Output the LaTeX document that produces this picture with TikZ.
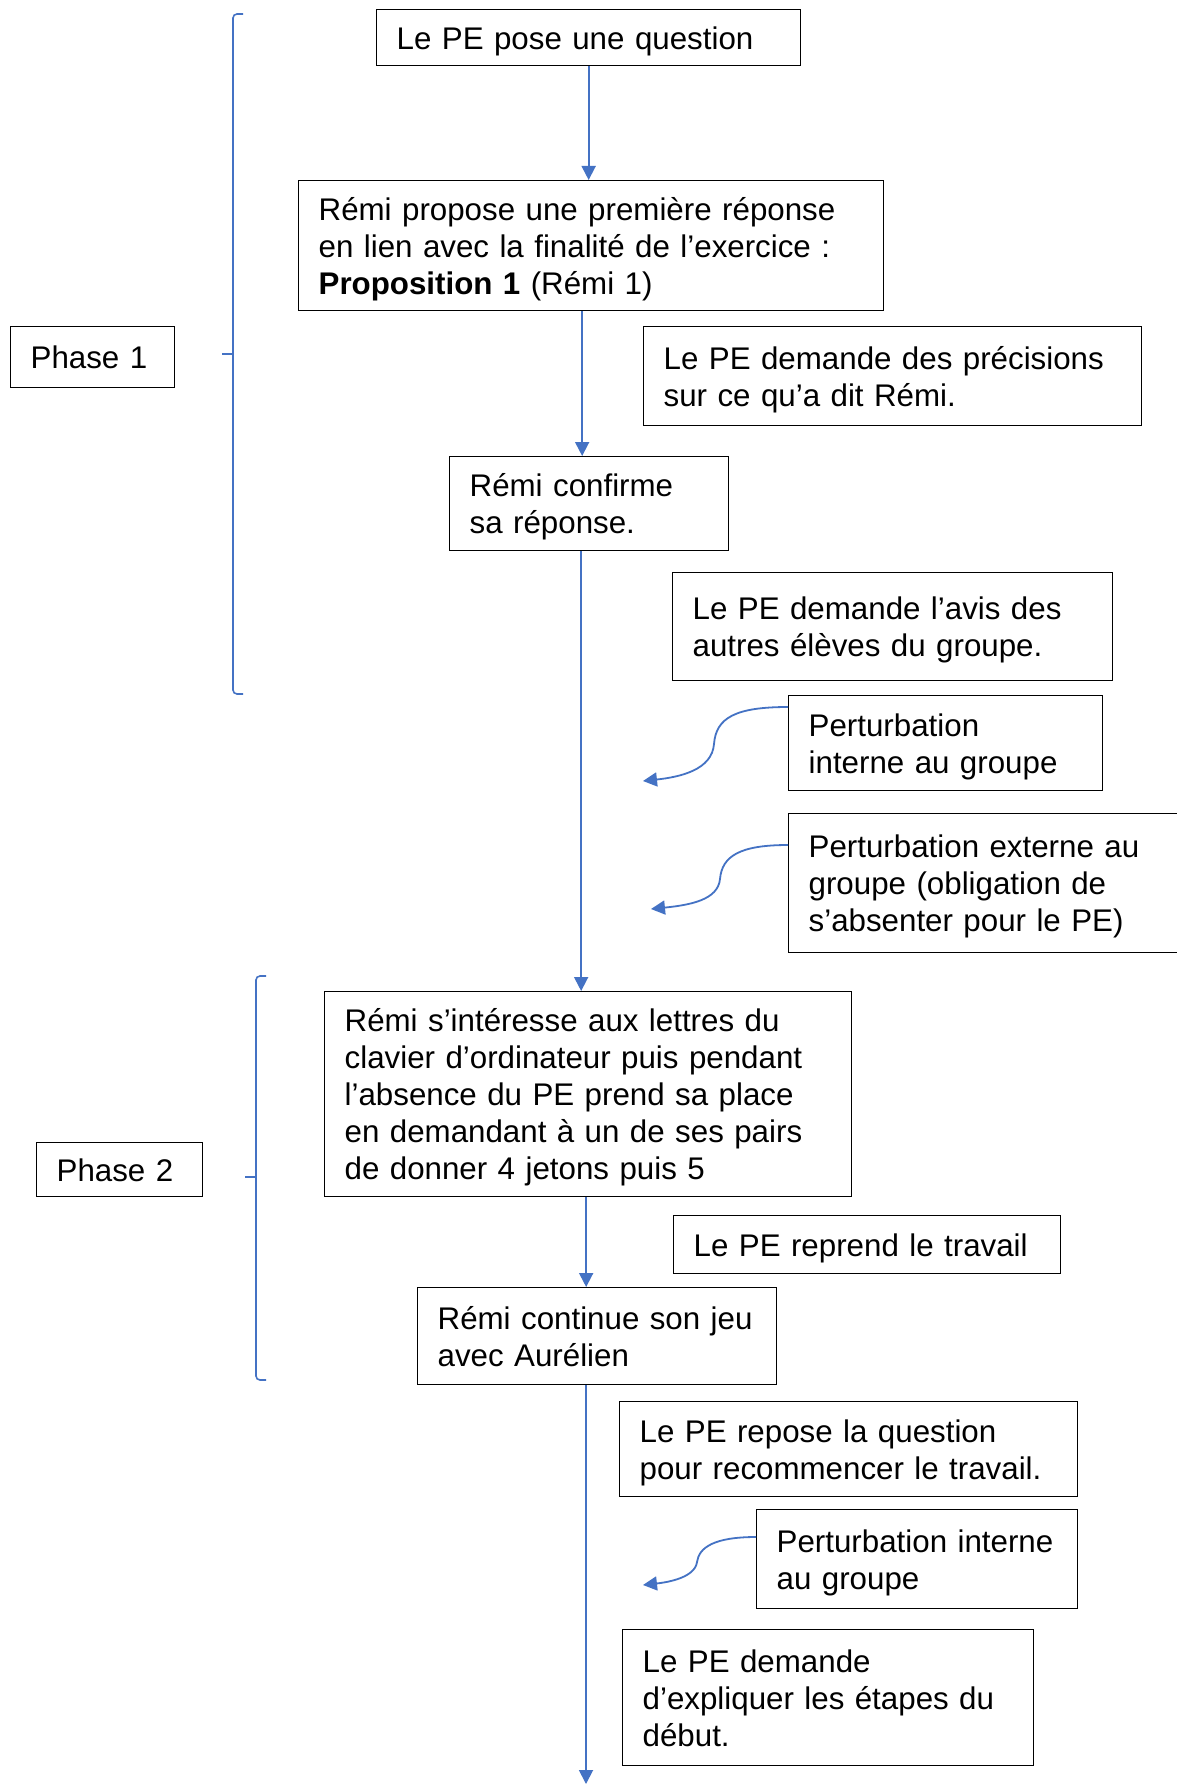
\documentclass[tikz,border=0pt]{standalone}
\usepackage{fontspec}
\setmainfont{Liberation Sans}
\usetikzlibrary{arrows.meta}
\definecolor{wordblue}{HTML}{4472C4}
\newcommand\fst{\rule{0pt}{30pt}}
\newcommand\lst{\rule[-7pt]{0pt}{7pt}}
\begin{document}
\begin{tikzpicture}[x=1pt,y=-1pt,
  bx/.style={draw=black,line width=1.3pt,inner xsep=20pt,inner ysep=0pt,align=left,anchor=north west,
    font=\fontsize{31.3}{37}\selectfont},
  arr/.style={draw=wordblue,line width=1.8pt,-{Triangle[width=14pt,length=14pt]}},
  brace/.style={draw=wordblue,line width=1.6pt,rounded corners=4pt}]
\useasboundingbox (0,0) rectangle (1176,1784);
\fill[white] (0,0) rectangle (1176,1784);

\node[bx,text width=384pt,minimum height=56pt] (A) at (376,9) {\mbox{\fst\lst Le PE pose une question}};
\node[bx,text width=545pt,minimum height=130pt] (B) at (298,180) {\mbox{\fst Rémi propose une première réponse}\\\mbox{en lien avec la finalité de l’exercice :}\\\mbox{\lst\textbf{Proposition 1} (Rémi 1)}};
\node[bx,text width=458pt,minimum height=99pt] (P1) at (643,326) {\mbox{\fst Le PE demande des précisions}\\\mbox{\lst sur ce qu’a dit Rémi.}};
\node[bx,text width=239pt,minimum height=94pt] (C) at (449,456) {\mbox{\fst Rémi confirme}\\\mbox{\lst sa réponse.}};
\node[bx,text width=400pt,minimum height=108pt] (P2) at (672,572) {\mbox{\fst Le PE demande l’avis des}\\\mbox{\lst autres élèves du groupe.}};
\node[bx,text width=274pt,minimum height=95pt] (P3) at (788,695) {\mbox{\fst Perturbation}\\\mbox{\lst interne au groupe}};
\node[bx,text width=370pt,minimum height=139pt] (P4) at (788,813) {\mbox{\fst Perturbation externe au}\\\mbox{groupe (obligation de}\\\mbox{\lst s’absenter pour le PE)}};
\node[bx,text width=487pt,minimum height=205pt] (D) at (324,991) {\mbox{\fst Rémi s’intéresse aux lettres du}\\\mbox{clavier d’ordinateur puis pendant}\\\mbox{l’absence du PE prend sa place}\\\mbox{en demandant à un de ses pairs}\\\mbox{\lst de donner 4 jetons puis 5}};
\node[bx,text width=347pt,minimum height=58pt] (P5) at (673,1215) {\mbox{\fst\lst Le PE reprend le travail}};
\node[bx,text width=319pt,minimum height=97pt] (E) at (417,1287) {\mbox{\fst Rémi continue son jeu}\\\mbox{\lst avec Aurélien}};
\node[bx,text width=418pt,minimum height=95pt] (P6) at (619,1401) {\mbox{\fst Le PE repose la question}\\\mbox{\lst pour recommencer le travail.}};
\node[bx,text width=281pt,minimum height=99pt] (P7) at (756,1509) {\mbox{\fst Perturbation interne}\\\mbox{\lst au groupe}};
\node[bx,text width=371pt,minimum height=136pt] (P8) at (622,1629) {\mbox{\fst Le PE demande}\\\mbox{d’expliquer les étapes du}\\\mbox{\lst début.}};
\node[bx,text width=124pt,minimum height=61pt] (Ph1) at (10,326) {\mbox{\fst\lst Phase 1}};
\node[bx,text width=126pt,minimum height=54pt] (Ph2) at (36,1142) {\mbox{\fst\lst Phase 2}};

% main connectors
\draw[arr] (A.south) -- (A.south |- B.north);
\draw[arr] ([xshift=-9pt]B.south) -- ([xshift=-9pt]B.south |- C.north);
\draw[arr] ([xshift=-8pt]C.south) -- ([xshift=-8pt]C.south |- D.north);
\draw[arr] ([xshift=-2pt]D.south) -- ([xshift=-2pt]D.south |- E.north);
\coordinate (end) at (586,1784);
\draw[arr] (E.south -| end) -- (end);

% curved arrows
\coordinate (c1) at (643,781);
\coordinate (c2) at (651,909);
\coordinate (c3) at (643,1585);
\draw[arr] ([yshift=-12pt]P3.north west) .. controls (735,707) and (716,718) .. (714,744)
  .. controls (712,770) and (680,777) .. (c1);
\draw[arr] ([yshift=-32pt]P4.north west) .. controls (740,845) and (722,856) .. (720,879)
  .. controls (718,900) and (690,905) .. (c2);
\draw[arr] ([yshift=-28pt]P7.north west) .. controls (715,1537) and (699,1547) .. (697,1562)
  .. controls (695,1577) and (670,1582) .. (c3);

% brackets
\draw[brace] (243,14) -- (233,14) -- (233,694) -- (243,694);
\draw[brace] (233,354) -- (222,354);
\draw[brace] (266,976) -- (256,976) -- (256,1380) -- (266,1380);
\draw[brace] (256,1177) -- (245,1177);
\end{tikzpicture}
\end{document}
